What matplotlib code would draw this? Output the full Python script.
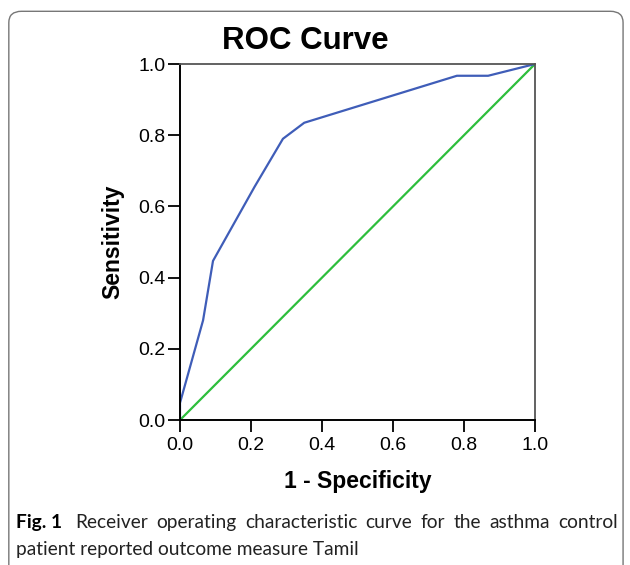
import matplotlib

matplotlib.use("Agg")
import matplotlib.pyplot as plt
from matplotlib.patches import FancyBboxPatch

# ROC points
fpr = [0.0, 0.0, 0.065, 0.093, 0.21, 0.29, 0.35, 0.78, 0.868, 1.0]
tpr = [0.0, 0.048, 0.28, 0.447, 0.655, 0.79, 0.835, 0.967, 0.967, 1.0]
ref_x = [0.0, 1.0]
ref_y = [0.0, 1.0]
ticks = [0.0, 0.2, 0.4, 0.6, 0.8, 1.0]
tick_labels = ["0.0", "0.2", "0.4", "0.6", "0.8", "1.0"]
caption_line1 = "Receiver operating characteristic curve for the asthma control"
caption_line2 = "patient reported outcome measure Tamil"

BLUE = "#3F5DB8"
GREEN = "#2DBE3C"
CHART_FONT = ["Liberation Sans", "DejaVu Sans"]
CAPTION_FONT = ["Lato", "DejaVu Sans"]
W, H = 630, 565

fig = plt.figure(figsize=(W / 100, H / 100), dpi=100)

# rounded frame around figure + caption
frame = FancyBboxPatch((0.014, -0.02), 0.975, 1.0, boxstyle="round,pad=0,rounding_size=0.02",
                       transform=fig.transFigure, fill=False, edgecolor="#777777", lw=1.0)
fig.patches.append(frame)

ax = fig.add_axes([0.2857, 0.2566, 0.5635, 0.6301])
ax.plot(ref_x, ref_y, color=GREEN, lw=1.6, solid_capstyle="butt")
ax.plot(fpr, tpr, color=BLUE, lw=1.6)
ax.set_xlim(0, 1)
ax.set_ylim(0, 1)
ax.set_xticks(ticks)
ax.set_yticks(ticks)
ax.set_xticklabels(tick_labels, family=CHART_FONT, fontsize=14)
ax.set_yticklabels(tick_labels, family=CHART_FONT, fontsize=14)
ax.tick_params(direction="out", length=8.5, width=1.3, color="black", pad=2)
ax.tick_params(axis="x", pad=4)
for s in ("left", "bottom"):
    ax.spines[s].set_linewidth(1.4)
    ax.spines[s].set_color("black")
for s in ("top", "right"):
    ax.spines[s].set_linewidth(1.3)
    ax.spines[s].set_color("#555555")

ax.set_xlabel("1 - Specificity", family=CHART_FONT, fontsize=16.5, fontweight="bold", labelpad=11)
ax.set_ylabel("Sensitivity", family=CHART_FONT, fontsize=16.5, fontweight="bold", labelpad=10)
fig.text(0.485, 0.928, "ROC Curve", family=CHART_FONT, fontsize=22.5, fontweight="bold",
         ha="center", va="center")

# caption: first line spread between x=75 and x=618 px
fig.text(16 / W, 0.075, "Fig. 1", family=CAPTION_FONT, fontsize=13.8, fontweight="bold",
         ha="left", va="center")
renderer = fig.canvas.get_renderer()
words = []
for w in caption_line1.split():
    t = fig.text(0, 0.075, w, family=CAPTION_FONT, fontsize=13.8, ha="left", va="center",
                 color="#222222")
    words.append((t, t.get_window_extent(renderer).width))
x0, x1 = 75, 618
gap = (x1 - x0 - sum(wd for _, wd in words)) / (len(words) - 1)
x = x0
for t, wd in words:
    t.set_x(x / W)
    x += wd + gap
fig.text(16 / W, 0.028, caption_line2, family=CAPTION_FONT, fontsize=13.8,
         ha="left", va="center", color="#222222")

fig.savefig("out.png", dpi=100)
